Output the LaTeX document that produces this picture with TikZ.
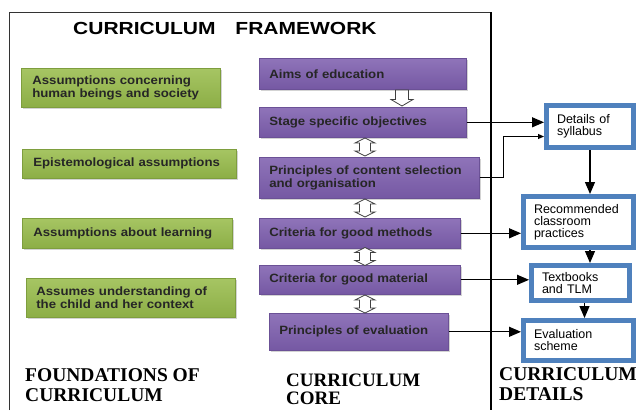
\documentclass[tikz,border=0pt]{standalone}
\usepackage{fontspec}
\setmainfont{Liberation Serif}
\setsansfont{Liberation Sans}
\newfontfamily\titlefont[FakeStretch=1.2]{Liberation Sans}
\newfontfamily\boxfont[FakeStretch=1.1]{Liberation Sans}
\usetikzlibrary{arrows.meta,shadows,positioning}
\definecolor{foundtop}{HTML}{A6C563}
\definecolor{foundmid}{HTML}{BBD57F}
\definecolor{foundbot}{HTML}{8CAE46}
\definecolor{founddraw}{HTML}{7E9E3E}
\definecolor{coretop}{HTML}{8F74B9}
\definecolor{coremid}{HTML}{A690CC}
\definecolor{corebot}{HTML}{7558A3}
\definecolor{coredraw}{HTML}{6B5196}
\definecolor{detailblue}{HTML}{4F81BD}

\begin{document}
\begin{tikzpicture}[x=1pt,y=-1pt]
\tikzset{foundbox/.style={rectangle, anchor=north west, draw=founddraw, line width=0.6pt, top color=foundtop, middle color=foundmid, bottom color=foundbot, drop shadow={shadow xshift=1.5pt, shadow yshift=-1.5pt, opacity=0.35}, inner xsep=11pt, inner ysep=0pt, align=left, text=black!85, font=\boxfont\bfseries\fontsize{12}{12.5}\selectfont}}
\tikzset{corebox/.style={foundbox, draw=coredraw, top color=coretop, middle color=coremid, bottom color=corebot, inner xsep=10pt}}
\tikzset{detailbox/.style={rectangle, anchor=north west, draw=detailblue, line width=5pt, fill=white, inner xsep=10.5pt, inner ysep=0pt, outer sep=2.5pt, align=left, font=\sffamily\fontsize{12.5}{12}\selectfont}}
\tikzset{hollowline/.style={draw=black!75, fill=white, line width=0.8pt, line join=miter}}
\tikzset{hollowone/.pic={\path[hollowline] (-6.5,-8) -- (6.5,-8) -- (6.5,1.5) -- (11,1.5) -- (0,8) -- (-11,1.5) -- (-6.5,1.5) -- cycle;}}
\tikzset{hollowtwo/.pic={\path[hollowline] (0,-9) -- (10,-4) -- (5.5,-4) -- (5.5,4) -- (10,4) -- (0,9) -- (-10,4) -- (-5.5,4) -- (-5.5,-4) -- (-10,-4) -- cycle;}}
\tikzset{linkarrow/.style={draw, line width=1.2pt, -{Triangle[length=12pt,width=10pt]}}}
\tikzset{linkthin/.style={draw, line width=1pt, -{Triangle[length=6pt,width=5pt]}}}
\tikzset{sectionlabel/.style={anchor=north west, inner sep=0pt, align=left, font=\bfseries\fontsize{19.5}{20}\selectfont}}
\useasboundingbox (0,0) rectangle (636,410);
\draw[line width=0.7pt, black!80] (9,410) -- (9,12) -- (491,12);
\draw[line width=1.2pt] (491,12) -- (491,410);
\node[anchor=base west, inner sep=0pt, font=\titlefont\bfseries\fontsize{17.5}{20}\selectfont] (title) at (73,34) {CURRICULUM\hspace{20pt}FRAMEWORK};
\node[foundbox, minimum height=39pt, text width=177pt] (human) at (21,68) {Assumptions concerning\\human beings and society};
\node[foundbox, minimum height=29pt, text width=192pt] (episteme) at (22,149) {Epistemological assumptions};
\node[foundbox, minimum height=30pt, text width=188pt] (learning) at (22,218) {Assumptions about learning};
\node[foundbox, minimum height=39pt, text width=189pt, inner xsep=10pt] (child) at (26,278) {Assumes understanding of\\the child and her context};
\node[corebox, minimum height=31pt, text width=187pt] (aims) at (259,58) {Aims of education};
\node[corebox, minimum height=30pt, text width=187pt] (stage) at (259,107) {Stage specific objectives};
\node[corebox, minimum height=41pt, text width=200pt] (content) at (259,157) {Principles of content selection\\and organisation};
\node[corebox, minimum height=30pt, text width=181pt] (methods) at (259,218) {Criteria for good methods};
\node[corebox, minimum height=29pt, text width=181pt] (material) at (259,265) {Criteria for good material};
\node[corebox, minimum height=37pt, text width=159pt] (evaluation) at (269,313) {Principles of evaluation};
\pic (aimsdown) at (402,98) {hollowone};
\pic (stagelink) at (365,147) {hollowtwo};
\pic (contentlink) at (365,208) {hollowtwo};
\pic (methodslink) at (365,256.5) {hollowtwo};
\pic (materiallink) at (365,304) {hollowtwo};
\node[detailbox, minimum height=42pt, text width=66pt] (syllabus) at (544,103) {Details of\\syllabus};
\node[detailbox, minimum height=51pt, text width=89pt] (practices) at (521,194) {Recommended\\classroom\\practices};
\node[detailbox, minimum height=35pt, text width=77pt] (textbooks) at (529,263) {Textbooks\\and TLM};
\node[detailbox, minimum height=40pt, text width=89pt] (scheme) at (521,318) {Evaluation\\scheme};
\draw[linkarrow] (stage.east) -- (stage.east -| syllabus.west);
\draw[linkthin] (content.east) -- ++(24,0) |- ([yshift=-10pt]syllabus.west);
\draw[linkarrow] (syllabus.south) -- (syllabus.south |- practices.north);
\draw[linkarrow] (methods.east) -- (methods.east -| practices.west);
\draw[linkarrow] (practices.south -| syllabus.south) -- (syllabus.south |- textbooks.north);
\draw[linkarrow] (material.east) -- (material.east -| textbooks.west);
\draw[linkarrow] ([xshift=4pt]textbooks.south) -- ([xshift=4pt]textbooks.south |- scheme.north);
\draw[linkarrow] (evaluation.east) -- (evaluation.east -| scheme.west);
\node[sectionlabel] (foundlabel) at (25,368) {FOUNDATIONS OF\\CURRICULUM};
\node[sectionlabel, font=\bfseries\fontsize{19}{17.5}\selectfont] (corelabel) at (286,374) {CURRICULUM\\CORE};
\node[sectionlabel] (detaillabel) at (499,367) {CURRICULUM\\DETAILS};
\end{tikzpicture}
\end{document}
